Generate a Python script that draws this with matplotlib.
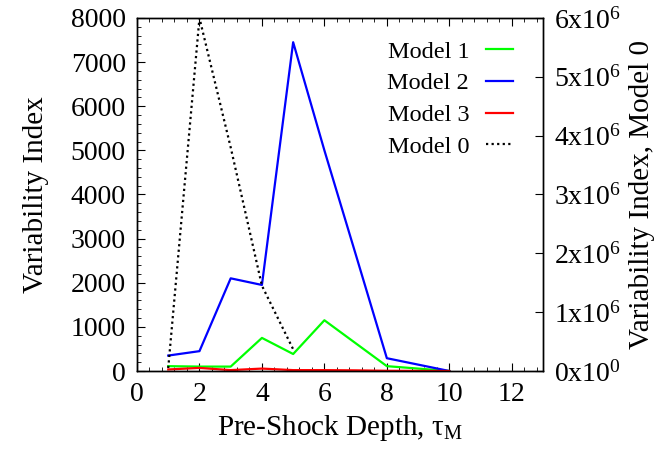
import matplotlib.pyplot as plt
from matplotlib.ticker import MultipleLocator, FixedLocator

plt.rcParams['font.family'] = ['Liberation Serif', 'DejaVu Serif']
plt.rcParams['mathtext.fontset'] = 'custom'
plt.rcParams['mathtext.rm'] = 'Liberation Serif'
plt.rcParams['mathtext.it'] = 'Liberation Serif:italic'

# data
depth = [1, 2, 3, 4, 5, 6, 7, 8, 10]
model1 = [110, 100, 100, 750, 385, 1150, 630, 110, 0]
model2 = [350, 450, 2100, 1950, 7450, 5000, 2650, 290, 0]
model3 = [35, 70, 20, 55, 20, 20, 15, 5, 0]
depth0 = [1, 2, 3, 4, 5]
model0 = [0.05e6, 6.0e6, 3.8e6, 1.45e6, 0.37e6]
right_ticks = [0, 1e6, 2e6, 3e6, 4e6, 5e6, 6e6]
right_labels = [r'$0\mathrm{x}10^{0}$'] + [r'$%d\mathrm{x}10^{6}$' % i for i in range(1, 7)]

fs = 20
lfs = 21
fig = plt.figure(figsize=(6.67, 4.49), dpi=100)
ax = fig.add_axes([0.2054, 0.1737, 0.6087, 0.7863])
ax2 = ax.twinx()

l1, = ax.plot(depth, model1, color='#00ff00', lw=1.6, label='Model 1')
l2, = ax.plot(depth, model2, color='#0000ff', lw=1.6, label='Model 2')
l3, = ax.plot(depth, model3, color='#ff0000', lw=1.6, label='Model 3')
l0, = ax2.plot(depth0, model0, color='black', lw=1.6, ls=(0, (1, 1.5)), label='Model 0')

ax.set_xlim(0, 13)
ax.set_ylim(0, 8000)
ax2.set_ylim(0, 6e6)

ax.xaxis.set_major_locator(MultipleLocator(2))
ax.xaxis.set_minor_locator(MultipleLocator(0.4))
ax.yaxis.set_major_locator(MultipleLocator(1000))
ax.yaxis.set_minor_locator(MultipleLocator(200))
ax.tick_params(which='both', direction='in', top=True, right=False, labelsize=fs)
ax.tick_params(which='major', length=6, pad=8)
ax.tick_params(which='minor', length=3)
ax2.yaxis.set_major_locator(FixedLocator(right_ticks))
ax2.set_yticklabels(right_labels)
ax2.tick_params(direction='in', length=6, labelsize=fs, pad=8)

ax.set_xlabel(r'Pre-Shock Depth, $\mathrm{\tau_M}$', fontsize=lfs, labelpad=4)
ax.set_ylabel('Variability Index', fontsize=lfs, labelpad=16)
ax2.set_ylabel('Variability Index, Model 0', fontsize=lfs, labelpad=6)

leg = ax.legend(handles=[l1, l2, l3, l0], loc='upper right', bbox_to_anchor=(0.926, 0.936),
                frameon=False, markerfirst=False, fontsize=17.5, handlelength=1.1,
                labelspacing=0.4, handletextpad=0.7, borderpad=0, borderaxespad=0)

for a in (ax, ax2):
    for s in a.spines.values():
        s.set_linewidth(1.0)

fig.savefig('out.png', dpi=100)
